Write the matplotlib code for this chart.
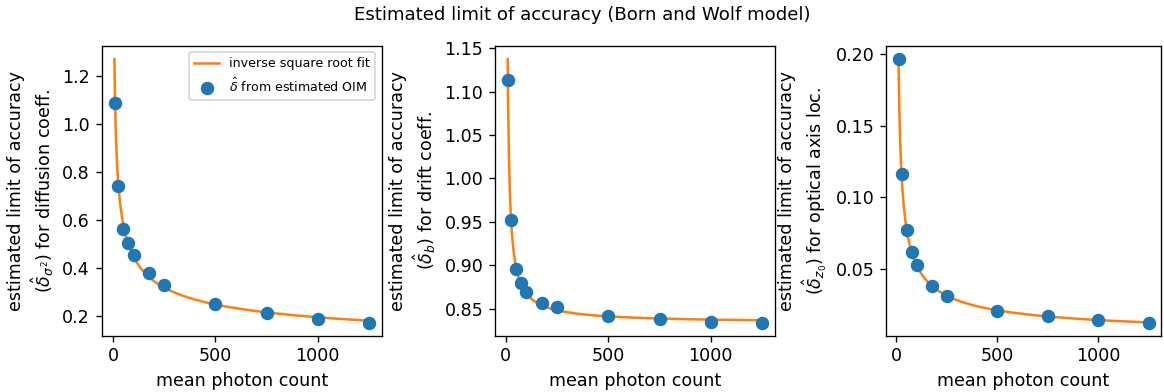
import numpy as np
import matplotlib.pyplot as plt

# mean photon counts and estimated accuracy limits
photons = np.array([10, 25, 50, 75, 100, 175, 250, 500, 750, 1000, 1250])
delta_sigma2 = np.array([1.089, 0.743, 0.562, 0.504, 0.453, 0.380, 0.331,
                         0.251, 0.213, 0.190, 0.174])
delta_b = np.array([1.113, 0.952, 0.896, 0.879, 0.869, 0.856, 0.852,
                    0.841, 0.838, 0.835, 0.834])
delta_z0 = np.array([0.1966, 0.1164, 0.0772, 0.0620, 0.0526, 0.0382, 0.0312,
                     0.0208, 0.0167, 0.0143, 0.0124])

series = [delta_sigma2, delta_b, delta_z0]
ylabels = [
    'estimated limit of accuracy\n' + r'($\hat{\delta}_{\sigma^2}$) for diffusion coeff.',
    'estimated limit of accuracy\n' + r'($\hat{\delta}_{b}$) for drift coeff.',
    'estimated limit of accuracy\n' + r'($\hat{\delta}_{z_0}$) for optical axis loc.',
]
fit_start = [6.6, 9.1, 10.5]

plt.rcParams['font.size'] = 10.5


def fit_curve(x, y):
    # y = a * x**(-p) + c, p by grid search, a and c by least squares
    best = None
    for p in np.linspace(0.1, 1.5, 281):
        A = np.column_stack([x ** -p, np.ones_like(x, dtype=float)])
        coef = np.linalg.lstsq(A, y, rcond=None)[0]
        r = np.sum((A @ coef - y) ** 2)
        if best is None or r < best[0]:
            best = (r, p, coef[0], coef[1])
    return best[1:]


fig = plt.figure(figsize=(9.7, 3.2667), dpi=120)
W, H = 1164, 392
boxes = [(101.7, 280), (495, 279.7), (886, 275)]
bottom, top = 56.3, 346

for i, (y, lab, x0) in enumerate(zip(series, ylabels, fit_start)):
    left, width = boxes[i]
    ax = fig.add_axes([left / W, bottom / H, width / W, (top - bottom) / H])
    p, a, c = fit_curve(photons, y)
    xs = np.linspace(x0, photons.max(), 600)
    ax.plot(xs, a * xs ** -p + c, color='tab:orange', lw=1.5,
            label='inverse square root fit')
    ax.scatter(photons, y, s=50, color='tab:blue', zorder=3,
               label=r'$\hat{\delta}$ from estimated OIM')
    ax.set_xlabel('mean photon count')
    ax.set_ylabel(lab)
    ax.set_xticks([0, 500, 1000])
    if i == 0:
        ax.legend(loc='upper right', fontsize=7.6)

fig.suptitle('Estimated limit of accuracy (Born and Wolf model)',
             fontsize=10.9, y=0.985)
fig.savefig('out.png', dpi=120)
